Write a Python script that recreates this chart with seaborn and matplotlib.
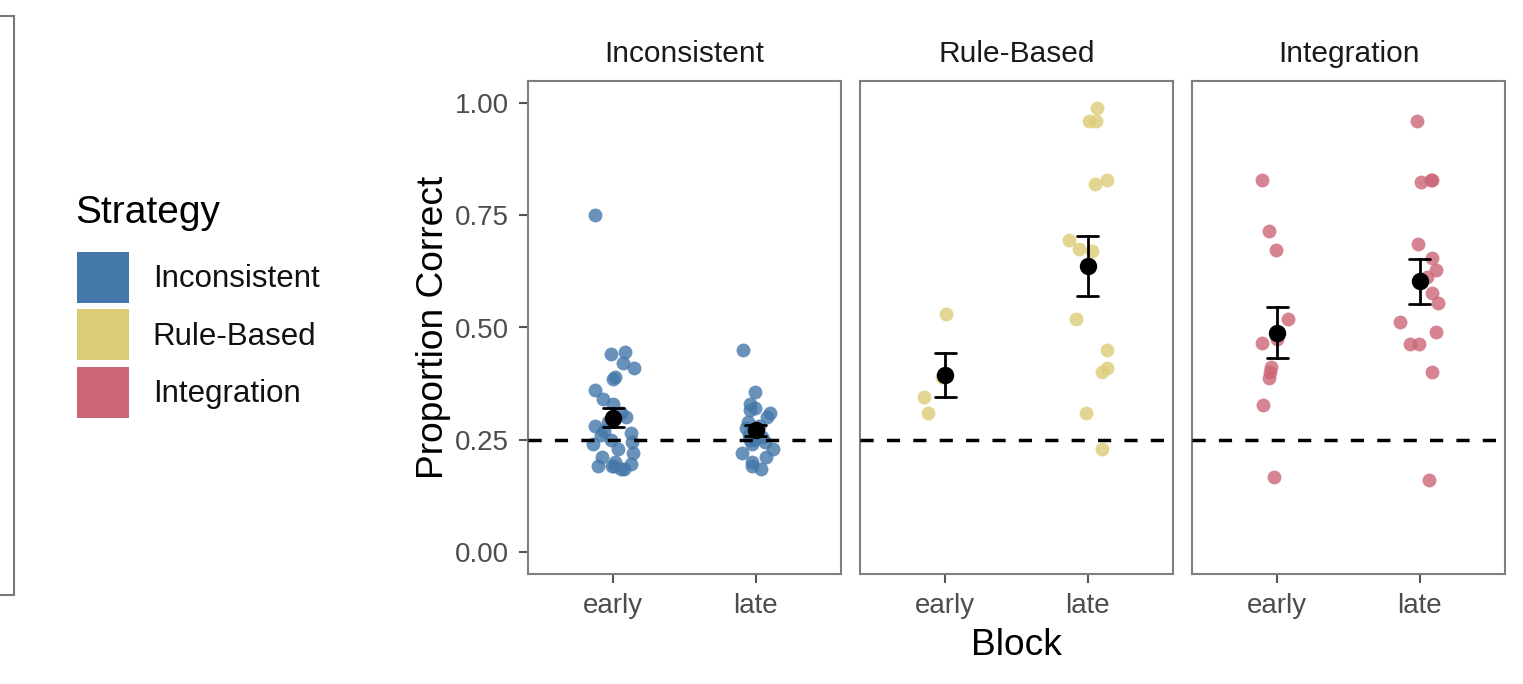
import numpy as np
import pandas as pd
import matplotlib
matplotlib.use("Agg")
import matplotlib.pyplot as plt
from matplotlib.patches import Patch, Rectangle
import seaborn as sns

# ---- data ----
strategies = ["Inconsistent", "Rule-Based", "Integration"]
blocks = ["early", "late"]
colors = ["#4477AA", "#DDCC77", "#CC6677"]

inc_early = [0.75, 0.445, 0.44, 0.42, 0.41, 0.39, 0.385, 0.36, 0.34, 0.33, 0.31, 0.30,
             0.29, 0.28, 0.27, 0.265, 0.26, 0.25, 0.245, 0.24, 0.23, 0.22, 0.21, 0.20,
             0.195, 0.19, 0.19, 0.185, 0.185, 0.19]
inc_late = [0.45, 0.355, 0.33, 0.32, 0.315, 0.31, 0.30, 0.29, 0.28, 0.275, 0.27, 0.26,
            0.255, 0.25, 0.25, 0.245, 0.24, 0.23, 0.22, 0.21, 0.20, 0.19, 0.185]
rb_early = [0.53, 0.39, 0.345, 0.31]
rb_late = [0.99, 0.96, 0.96, 0.83, 0.82, 0.695, 0.675, 0.67, 0.52, 0.45, 0.41, 0.40,
           0.31, 0.23]
int_early = [0.83, 0.716, 0.673, 0.52, 0.474, 0.465, 0.411, 0.40, 0.387, 0.327, 0.166]
int_late = [0.96, 0.83, 0.83, 0.825, 0.687, 0.654, 0.628, 0.612, 0.576, 0.554, 0.513,
            0.491, 0.463, 0.463, 0.40, 0.16]

yticks = [0.0, 0.25, 0.5, 0.75, 1.0]
ytick_labels = ["0.00", "0.25", "0.50", "0.75", "1.00"]
chance = 0.25

values = {
    ("Inconsistent", "early"): inc_early,
    ("Inconsistent", "late"): inc_late,
    ("Rule-Based", "early"): rb_early,
    ("Rule-Based", "late"): rb_late,
    ("Integration", "early"): int_early,
    ("Integration", "late"): int_late,
}
rows = []
for (s, b), vals in values.items():
    for v in vals:
        rows.append({"Strategy": s, "Block": b, "Proportion": v})
df = pd.DataFrame(rows)

# ---- style ----
sns.set_theme(style="white")
plt.rcParams["font.family"] = ["Liberation Sans", "DejaVu Sans"]
plt.rcParams["text.color"] = "black"

W, H = 1523, 684
fig, axes = plt.subplots(1, 3, figsize=(W / 100, H / 100), dpi=100, sharey=True)
fig.subplots_adjust(left=528 / W, right=1505 / W, bottom=1 - 574 / H, top=1 - 81 / H,
                    wspace=0.061)

np.random.seed(7)
spine_col = "#7f7f7f"
for i, (ax, s, c) in enumerate(zip(axes, strategies, colors)):
    sub = df[df["Strategy"] == s]
    sns.stripplot(data=sub, x="Block", y="Proportion", order=blocks, color=c,
                  jitter=0.15, size=10, alpha=0.8, linewidth=0, ax=ax, zorder=2)
    sns.pointplot(data=sub, x="Block", y="Proportion", order=blocks, errorbar="se",
                  color="black", capsize=0.15, linestyle="none", marker="o",
                  markersize=10.5, err_kws={"linewidth": 2}, ax=ax)
    ax.axhline(chance, color="black", linewidth=2.5, dashes=(3.8, 3.8), zorder=5)
    ax.set_xlim(-0.6, 1.6)
    ax.set_ylim(-0.05, 1.05)
    ax.set_title(s, fontsize=21.5, color="#1a1a1a", pad=13.7)
    ax.set_xlabel("")
    ax.set_ylabel("")
    for sp in ax.spines.values():
        sp.set_visible(True)
        sp.set_color(spine_col)
        sp.set_linewidth(1.5)
    ax.tick_params(axis="x", length=6.5, width=1.5, color="#555555", pad=7.2,
                   labelsize=20, labelcolor="#4d4d4d", bottom=True)
    ax.tick_params(axis="y", length=6.5, width=1.5, color="#555555", pad=7.2,
                   labelsize=20, labelcolor="#4d4d4d", left=(i == 0))
    ax.grid(False)

axes[0].set_yticks(yticks)
axes[0].set_yticklabels(ytick_labels)
axes[0].set_ylabel("Proportion Correct", fontsize=26.7, color="black", labelpad=3)

fig.text(1016.5 / W, 1 - 655 / H, "Block", fontsize=26.7, ha="center", va="baseline",
         color="black")

# legend
handles = [Patch(facecolor=c, edgecolor="none") for c in colors]
leg = fig.legend(handles, strategies, loc="upper left",
                 bbox_to_anchor=(77 / W, 1 - 252 / H),
                 frameon=False, fontsize=22.5, handlelength=1.65, handleheight=2.134,
                 labelspacing=0.2, handletextpad=0.77, borderpad=0, borderaxespad=0)
for t in leg.get_texts():
    t.set_color("#111111")
fig.text(75 / W, 1 - 223 / H, "Strategy", fontsize=28, ha="left", va="baseline",
         color="black")

# cropped frame at the left edge
fig.add_artist(Rectangle((-0.01, 1 - 595 / H), 14 / W + 0.01, (595 - 16) / H,
                         transform=fig.transFigure, fill=False, edgecolor="#777777",
                         linewidth=1.5))

fig.savefig("out.png", dpi=100)
